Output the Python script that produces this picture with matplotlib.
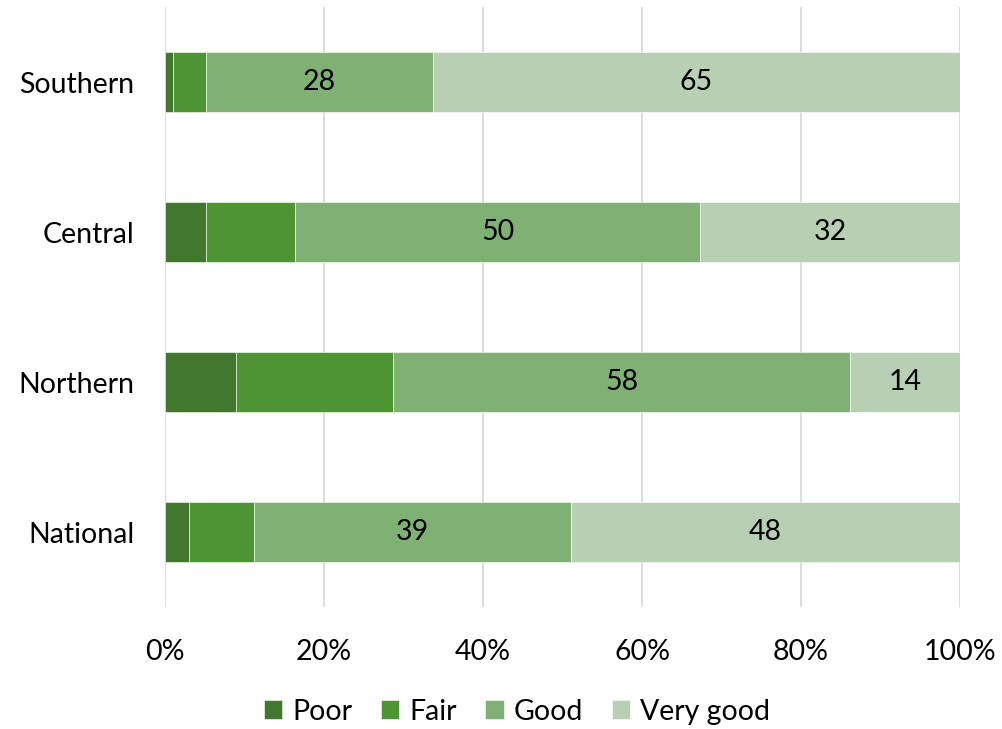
import numpy as np
import matplotlib
matplotlib.use("Agg")
import matplotlib.pyplot as plt

# data (raw survey counts, shown as 100% stacked)
regions = ["National", "Northern", "Central", "Southern"]
ratings = ["Poor", "Fair", "Good", "Very good"]
poor = [3, 9, 5, 1]
fair = [8, 20, 11, 4]
good = [39, 58, 50, 28]
very_good = [48, 14, 32, 65]
labelled = ["Good", "Very good"]

colors = ["#41782E", "#4E9435", "#80B174", "#B9CFB4"]

plt.rcParams["font.family"] = ["Lato", "DejaVu Sans"]

fig = plt.figure(figsize=(10.02, 7.29), dpi=100)
ax = fig.add_axes([0.1647, 0.167, 0.7935, 0.823])

raw = np.array([poor, fair, good, very_good], dtype=float)
share = raw / raw.sum(axis=0) * 100
y = np.arange(len(regions))

left = np.zeros(len(regions))
for i, name in enumerate(ratings):
    bars = ax.barh(y, share[i], left=left, height=0.4, color=colors[i],
                   label=name, edgecolor="white", linewidth=0.4, zorder=3)
    if name in labelled:
        for j, b in enumerate(bars):
            ax.text(left[j] + share[i][j] / 2, y[j], f"{int(raw[i][j])}",
                    ha="center", va="center", fontsize=20.5, color="black", zorder=4)
    left += share[i]

ax.set_xlim(0, 100)
ax.set_ylim(-0.5, 3.5)
ax.set_xticks(np.arange(0, 101, 20))
ax.set_xticklabels([f"{v}%" for v in range(0, 101, 20)])
ax.set_yticks(y)
ax.set_yticklabels(regions)
ax.tick_params(axis="both", length=0, labelsize=20.5)
ax.tick_params(axis="x", pad=23)
ax.tick_params(axis="y", pad=22)
ax.grid(axis="x", color="#D9D9D9", linewidth=1.3, zorder=0)
for s in ax.spines.values():
    s.set_visible(False)

fig.legend(loc="center", bbox_to_anchor=(0.516, 0.024), ncol=4, frameon=False,
           fontsize=20.5, handlelength=0.65, handleheight=0.65, handletextpad=0.35,
           columnspacing=1.0)

fig.savefig("out.png", dpi=100)
